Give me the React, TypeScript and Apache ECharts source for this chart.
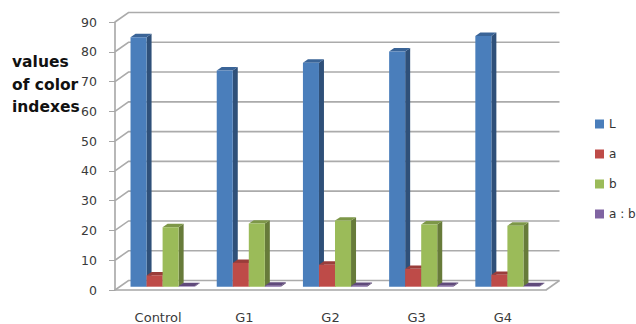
import React, { useEffect, useRef } from "react";
import * as echarts from "echarts";

const categories = ["Control", "G1", "G2", "G3", "G4"];
const valuesL = [83.8, 72.6, 75.2, 79, 84.2];
const valuesA = [3.8, 8, 7.4, 6, 4];
const valuesB = [20, 21.2, 22.2, 20.9, 20.5];
const valuesRatio = [0.2, 0.35, 0.3, 0.3, 0.2];
const yTicks = [0, 10, 20, 30, 40, 50, 60, 70, 80, 90];
const seriesNames = ["L", "a", "b", "a : b"];

// front, side and top faces of each series' columns
const palette = [
  { front: "#4a7ebb", side: "#2f5079", top: "#3a6497" },
  { front: "#be4b48", side: "#7d3230", top: "#9a3d3a" },
  { front: "#9bbb59", side: "#677b3a", top: "#7d9748" },
  { front: "#8064a2", side: "#54426b", top: "#604a7b" },
];

const WALL_DX = 13.5;
const WALL_DY = -9.5;
const BAR_DX = 5;
const BAR_DY = -3.4;
const BASE_DX = 4.5;
const BASE_DY = -3.3;
const BAR_SHARE = 0.186;

const wallRenderer = (params: any, api: any) => {
  const v = api.value(0);
  const sys = params.coordSys;
  const y = api.coord([0, v])[1];
  const left = sys.x;
  const right = sys.x + sys.width;
  const lineStyle = { stroke: "#ababab", lineWidth: 1.6, fill: "none" };
  const children: any[] = [
    {
      type: "polyline",
      shape: {
        points: [
          [left, y],
          [left + WALL_DX, y + WALL_DY],
          [right + WALL_DX, y + WALL_DY],
        ],
      },
      style: lineStyle,
    },
  ];
  if (v === 0) {
    children.push({
      type: "line",
      shape: { x1: right, y1: y, x2: right + WALL_DX, y2: y + WALL_DY },
      style: lineStyle,
    });
  }
  return { type: "group", children };
};

const columnRenderer = (index: number) => (_params: any, api: any) => {
  const cat = api.value(0);
  const [cx, topY] = api.coord([cat, api.value(1)]);
  const zeroY = api.coord([cat, 0])[1];
  const w = api.size([1, 0])[0] * BAR_SHARE;
  const x0 = cx - 2 * w + index * w + BASE_DX;
  const x1 = x0 + w;
  const yb = zeroY + BASE_DY;
  const yt = topY + BASE_DY;
  const c = palette[index];
  const face = (points: number[][], fill: string) => ({
    type: "polygon",
    shape: { points },
    style: { fill },
  });
  return {
    type: "group",
    children: [
      face(
        [
          [x1, yb],
          [x1 + BAR_DX, yb + BAR_DY],
          [x1 + BAR_DX, yt + BAR_DY],
          [x1, yt],
        ],
        c.side
      ),
      face(
        [
          [x0, yt],
          [x1, yt],
          [x1 + BAR_DX, yt + BAR_DY],
          [x0 + BAR_DX, yt + BAR_DY],
        ],
        c.top
      ),
      face(
        [
          [x0, yb],
          [x1, yb],
          [x1, yt],
          [x0, yt],
        ],
        c.front
      ),
    ],
  };
};

const columnSeries = (name: string, values: number[], index: number) => ({
  type: "custom",
  name,
  renderItem: columnRenderer(index),
  encode: { x: 0, y: 1 },
  itemStyle: { color: palette[index].front },
  data: values.map((v, i) => [i, v]),
  z: 3 + index,
});

export default function App() {
  const ref = useRef<HTMLDivElement>(null);
  useEffect(() => {
    const chart = echarts.init(ref.current!, undefined, { renderer: "svg" });
    chart.setOption({
      animation: false,
      backgroundColor: "#ffffff",
      textStyle: { fontFamily: "DejaVu Sans" },
      title: {
        text: "values\nof color\nindexes",
        left: 12,
        top: 51,
        padding: 0,
        textStyle: {
          fontFamily: "DejaVu Sans",
          fontWeight: "bold",
          fontSize: 15.5,
          lineHeight: 22.5,
          color: "#111111",
        },
      },
      legend: {
        orient: "vertical",
        left: 595,
        top: 118,
        padding: 0,
        itemWidth: 9,
        itemHeight: 9,
        itemGap: 18,
        icon: "rect",
        data: seriesNames,
        textStyle: { fontSize: 12, color: "#333333" },
      },
      grid: { left: 115, top: 22, width: 431, height: 268.5 },
      xAxis: {
        type: "category",
        data: categories,
        axisLine: { lineStyle: { color: "#a6a6a6", width: 1.6 } },
        axisTick: { length: 6, alignWithLabel: false, lineStyle: { color: "#a6a6a6" } },
        axisLabel: { margin: 21, fontSize: 13, color: "#3a3a3a" },
      },
      yAxis: {
        type: "value",
        min: yTicks[0],
        max: yTicks[yTicks.length - 1],
        interval: 10,
        splitLine: { show: false },
        axisLine: { show: true, lineStyle: { color: "#a6a6a6", width: 1.6 } },
        axisTick: { show: true, length: 6, lineStyle: { color: "#a6a6a6" } },
        axisLabel: { margin: 18, fontSize: 12.5, color: "#3a3a3a" },
      },
      series: [
        {
          type: "custom",
          name: "walls",
          renderItem: wallRenderer,
          encode: { y: 0 },
          data: yTicks.map((t) => [t]),
          silent: true,
          z: 1,
        },
        columnSeries(seriesNames[0], valuesL, 0),
        columnSeries(seriesNames[1], valuesA, 1),
        columnSeries(seriesNames[2], valuesB, 2),
        columnSeries(seriesNames[3], valuesRatio, 3),
      ],
    });
    return () => chart.dispose();
  }, []);
  return (
    <div
      ref={ref}
      style={{ position: "fixed", left: 0, top: 0, width: 636, height: 324 }}
    />
  );
}
